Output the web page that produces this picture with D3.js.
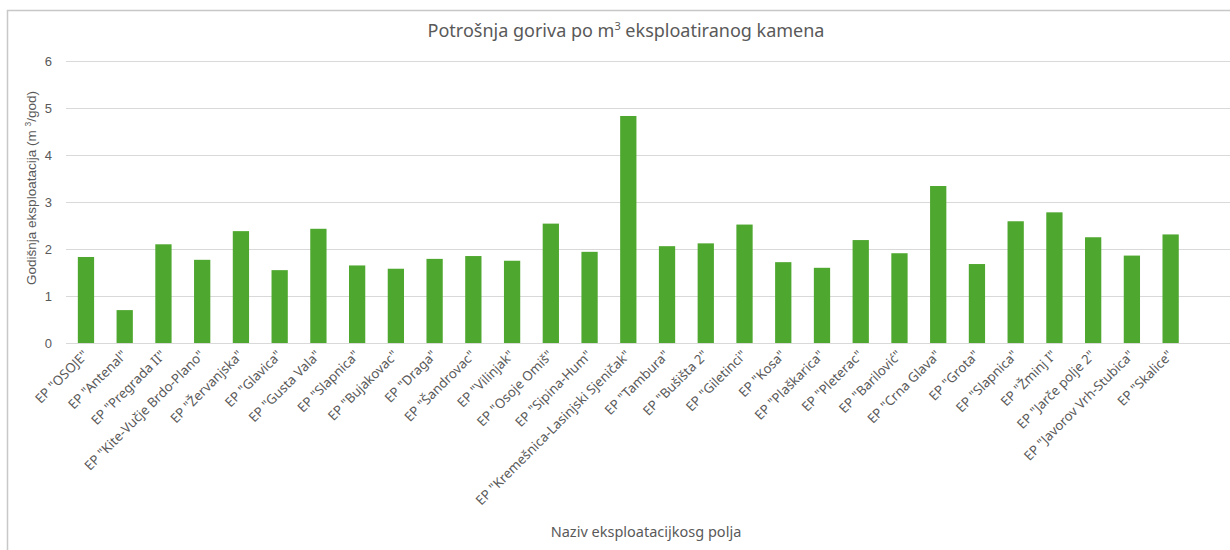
<!DOCTYPE html>
<html>
<head>
<meta charset="utf-8">
<script src="https://cdn.jsdelivr.net/npm/d3@7"></script>
<style>
  body { margin: 0; background: #fff; }
  svg { display: block; }
</style>
</head>
<body>
<script>
// data
const fields = ['EP "OSOJE"', 'EP "Antenal"', 'EP "Pregrada II"', 'EP "Kite-Vučje Brdo-Plano"',
  'EP "Žervanjska"', 'EP "Glavica"', 'EP "Gusta Vala"', 'EP "Slapnica"', 'EP "Bujakovac"',
  'EP "Draga"', 'EP "Šandrovac"', 'EP "Vilinjak"', 'EP "Osoje Omiš"', 'EP "Sipina-Hum"',
  'EP "Kremešnica-Lasinjski Sjeničak"', 'EP "Tambura"', 'EP "Bušišta 2"', 'EP "Giletinci"',
  'EP "Kosa"', 'EP "Plaškarica"', 'EP "Pleterac"', 'EP "Barilović"', 'EP "Crna Glava"',
  'EP "Grota"', 'EP "Slapnica"', 'EP "Žminj I"', 'EP "Jarče polje 2"',
  'EP "Javorov Vrh-Stubica"', 'EP "Skalice"'];
const values = [1.83, 0.70, 2.10, 1.77, 2.38, 1.55, 2.43, 1.65, 1.58, 1.79, 1.85, 1.75, 2.54, 1.94,
  4.83, 2.06, 2.12, 2.52, 1.72, 1.60, 2.19, 1.91, 3.34, 1.68, 2.59, 2.78, 2.25, 1.86, 2.31];
const yTicks = [0, 1, 2, 3, 4, 5, 6];

const width = 1230, height = 550;
const svg = d3.select('body').append('svg').attr('width', width).attr('height', height);

// chart frame (cropped on the right/bottom like the original)
svg.append('path')
  .attr('d', 'M7.5,' + height + 'V10.5H' + width)
  .attr('fill', 'none').attr('stroke', '#c8c8c8').attr('stroke-width', 1.5);

const data = fields.map((f, i) => ({key: i, name: f, value: values[i]}));

const x = d3.scaleBand().domain(data.map(d => d.key)).range([66.6, 1190]).paddingInner(0.58).paddingOuter(0.29);
const y = d3.scaleLinear().domain([0, 6]).range([343, 61]);

// gridlines
svg.append('g').selectAll('line').data(yTicks).join('line')
  .attr('x1', 66).attr('x2', width)
  .attr('y1', d => Math.round(y(d)) + 0.5).attr('y2', d => Math.round(y(d)) + 0.5)
  .attr('stroke', '#d9d9d9').attr('stroke-width', 1);

// y tick labels
svg.append('g').selectAll('text').data(yTicks).join('text')
  .attr('x', 52).attr('y', d => y(d) + 4.5)
  .attr('text-anchor', 'end')
  .attr('font-family', 'Liberation Sans, Arial, sans-serif').attr('font-size', 13)
  .attr('fill', '#595959')
  .text(d => d);

// bars
svg.append('g').selectAll('rect').data(data).join('rect')
  .attr('x', d => x(d.key)).attr('width', x.bandwidth())
  .attr('y', d => y(d.value)).attr('height', d => y(0) - y(d.value))
  .attr('fill', '#4ea72e');

// x labels rotated
svg.append('g').selectAll('text').data(data).join('text')
  .attr('transform', d => 'translate(' + (x(d.key) + x.bandwidth() / 2 + 3) + ',356) rotate(-45)')
  .attr('text-anchor', 'end')
  .attr('font-family', 'Noto Sans, sans-serif').attr('font-size', 13.2)
  .attr('fill', '#595959')
  .text(d => d.name);

// title
const title = svg.append('text')
  .attr('x', 626).attr('y', 37).attr('text-anchor', 'middle')
  .attr('font-family', 'Noto Sans, sans-serif').attr('font-size', 18)
  .attr('fill', '#595959');
title.append('tspan').text('Potrošnja goriva po m');
title.append('tspan').attr('dy', -7).attr('font-size', 11).text('3');
title.append('tspan').attr('dy', 7).text(' eksploatiranog kamena');

// y axis title
const yTitle = svg.append('text')
  .attr('transform', 'translate(36,188) rotate(-90)')
  .attr('text-anchor', 'middle')
  .attr('font-family', 'Liberation Sans, Arial, sans-serif').attr('font-size', 13.5)
  .attr('fill', '#595959');
yTitle.append('tspan').text('Godišnja eksploatacija (m ');
yTitle.append('tspan').attr('dy', -5).attr('font-size', 8.5).text('3');
yTitle.append('tspan').attr('dy', 5).text('/god)');

// x axis title
svg.append('text')
  .attr('x', 646).attr('y', 537).attr('text-anchor', 'middle')
  .attr('font-family', 'Noto Sans, sans-serif').attr('font-size', 14.5)
  .attr('fill', '#595959')
  .text('Naziv eksploatacijkosg polja');
</script>
</body>
</html>
